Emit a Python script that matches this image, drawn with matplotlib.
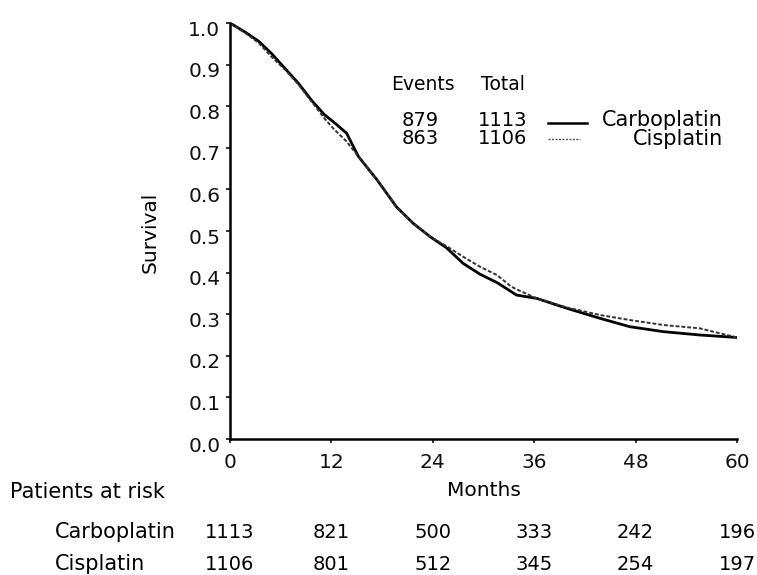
import numpy as np
import matplotlib
matplotlib.use('Agg')
import matplotlib.pyplot as plt
import matplotlib.transforms as mtransforms
from matplotlib.lines import Line2D

plt.rcParams['font.family'] = ['DejaVu Sans']

# survival curves
carbo_months = [0, 1.8, 3.4, 4.9, 6.5, 8.1, 9.7, 11.2, 12.2, 13.8, 15.2, 17.4, 19.7, 21.7,
                23.7, 25.6, 27.6, 29.6, 31.6, 33.3, 33.9, 36.3, 39.9, 43.8, 47.3, 51.3, 55.6, 60]
carbo_surv = [1.0, 0.978, 0.956, 0.927, 0.891, 0.855, 0.813, 0.779, 0.763, 0.735, 0.679, 0.623,
              0.558, 0.518, 0.486, 0.460, 0.422, 0.396, 0.376, 0.354, 0.346, 0.338, 0.314,
              0.290, 0.270, 0.258, 0.250, 0.244]
cis_months = [0, 1.8, 3.4, 4.9, 6.5, 8.1, 9.7, 11.2, 12.2, 13.8, 15.2, 17.4, 19.7, 21.7,
              23.7, 25.6, 27.6, 29.6, 31.6, 33.3, 33.9, 36.3, 39.9, 43.8, 47.3, 51.3, 55.6, 60]
cis_surv = [1.0, 0.976, 0.952, 0.919, 0.888, 0.852, 0.810, 0.770, 0.747, 0.715, 0.679, 0.623,
            0.558, 0.518, 0.486, 0.464, 0.438, 0.414, 0.394, 0.366, 0.360, 0.338, 0.316,
            0.298, 0.286, 0.274, 0.266, 0.244]

groups = ['Carboplatin', 'Cisplatin']
events = [879, 863]
totals = [1113, 1106]

risk_months = [0, 12, 24, 36, 48, 60]
carbo_risk = [1113, 821, 500, 333, 242, 196]
cis_risk = [1106, 801, 512, 345, 254, 197]

W, H = 757, 575


def px(x, y):
    # pixel position -> figure fraction
    return x / W, 1 - y / H


fig = plt.figure(figsize=(W / 100, H / 100), dpi=100)
ax = fig.add_axes([230 / W, 1 - 439 / H, (737 - 230) / W, (439 - 23) / H])

ax.plot(carbo_months, carbo_surv, color='black', lw=2.0, solid_joinstyle='round')
ax.plot(cis_months, cis_surv, color='#333333', lw=1.4, linestyle=(0, (2, 1)))

ax.set_xlim(0, 60)
ax.set_ylim(0, 1)
ax.set_xticks(risk_months)
ax.set_yticks(np.round(np.arange(0, 1.01, 0.1), 1))
ax.set_yticklabels(['%.1f' % v for v in np.arange(0, 1.01, 0.1)])
for s in ['top', 'right']:
    ax.spines[s].set_visible(False)
for s in ['left', 'bottom']:
    ax.spines[s].set_linewidth(1.8)
ax.tick_params(direction='out', length=3, width=1.2, labelsize=14.5, colors='#111111')
ax.tick_params(axis='x', pad=7)
ax.tick_params(axis='y', pad=4)
shift = mtransforms.ScaledTranslation(0, -5 / 100, fig.dpi_scale_trans)
for lab in ax.get_yticklabels():
    lab.set_transform(lab.get_transform() + shift)

fs_num = 14
fs_word = 15
fig.text(*px(150, 232), 'Survival', rotation=90, ha='center', va='center', fontsize=14.5)
fig.text(*px(484, 491), 'Months', ha='center', va='center', fontsize=14.5)
fig.text(*px(10, 492), 'Patients at risk', ha='left', va='center', fontsize=fs_word)

# legend block
fig.text(*px(423, 85), 'Events', ha='center', va='center', fontsize=13.5)
fig.text(*px(503, 85), 'Total', ha='center', va='center', fontsize=13.5)
rows_y = [120, 139]
for i, name in enumerate(groups):
    fig.text(*px(420, rows_y[i]), str(events[i]), ha='center', va='center', fontsize=fs_num)
    fig.text(*px(503, rows_y[i]), str(totals[i]), ha='center', va='center', fontsize=fs_num)
    fig.text(*px(723, rows_y[i]), name, ha='right', va='center', fontsize=fs_word)
x0, y0 = px(548, 123)
x1, _ = px(587, 123)
fig.add_artist(Line2D([x0, x1], [y0, y0], color='black', lw=1.8))
x0, y0 = px(548, 139)
x1, _ = px(580, 139)
fig.add_artist(Line2D([x0, x1], [y0, y0], color='#555555', lw=1.0, linestyle=(0, (1.5, 1))))

# numbers at risk
trans = mtransforms.blended_transform_factory(ax.transData, fig.transFigure)
table_y = [532, 564]
for i, counts in enumerate([carbo_risk, cis_risk]):
    fig.text(*px(55, table_y[i]), groups[i], ha='left', va='center', fontsize=fs_word)
    for m, n in zip(risk_months, counts):
        ax.text(m, 1 - table_y[i] / H, str(n), transform=trans, ha='center', va='center',
                fontsize=fs_num, clip_on=False)

fig.savefig('out.png', dpi=100)
